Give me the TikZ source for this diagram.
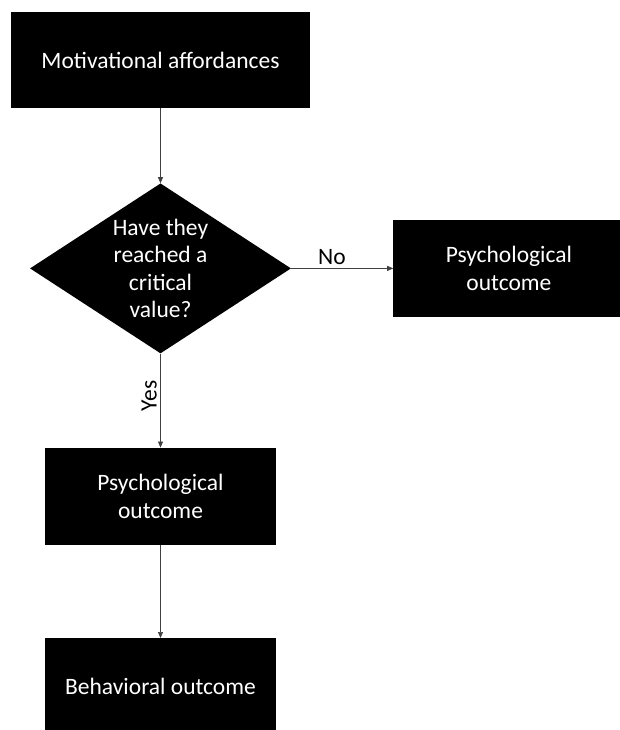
\documentclass[tikz,border=0pt]{standalone}
\usepackage{fontspec}
\setmainfont{Carlito}
\usetikzlibrary{shapes.geometric, arrows.meta, positioning}
\tikzstyle{arrow} = [draw=black!75, line width=0.7pt, -{Triangle[length=6pt,width=5pt]}]
\tikzstyle{blk} = [rectangle, fill=black, text=white, align=center, minimum width=231pt, minimum height=97pt, inner sep=0pt, font=\fontsize{23.5}{28}\selectfont]
\tikzstyle{dec} = [diamond, fill=black, text=white, align=center, minimum width=261pt, minimum height=170pt, inner sep=-30pt, font=\fontsize{23.5}{27.5}\selectfont]

\begin{document}
\begin{tikzpicture}[node distance=75pt]
		\useasboundingbox (0,0) rectangle (620pt,-730pt);
		\node (mot) [blk, minimum width=299pt, minimum height=96pt] at (160.5pt,-60pt) {Motivational affordances};
		\node (crit) [dec, below=75pt of mot] {Have they\\reached a\\critical\\value?};
		\draw [arrow] (mot) -- (crit);
		\node (psyr) [blk, right=102pt of crit, xshift=0pt] {Psychological\\outcome};
		\draw [arrow] (crit) -- node [above, pos=0.4, font=\fontsize{23.5}{28}\selectfont] {No} (psyr);
		\node (psy) [blk, below=94pt of crit] {Psychological\\outcome};
		\draw [arrow] (crit) -- node [pos=0.45, rotate=90, anchor=south, font=\fontsize{23.5}{28}\selectfont] {Yes} (psy);
		\node (beh) [blk, below=93pt of psy] {Behavioral outcome};
		\draw [arrow] (psy) -- (beh);
\end{tikzpicture}
\end{document}
